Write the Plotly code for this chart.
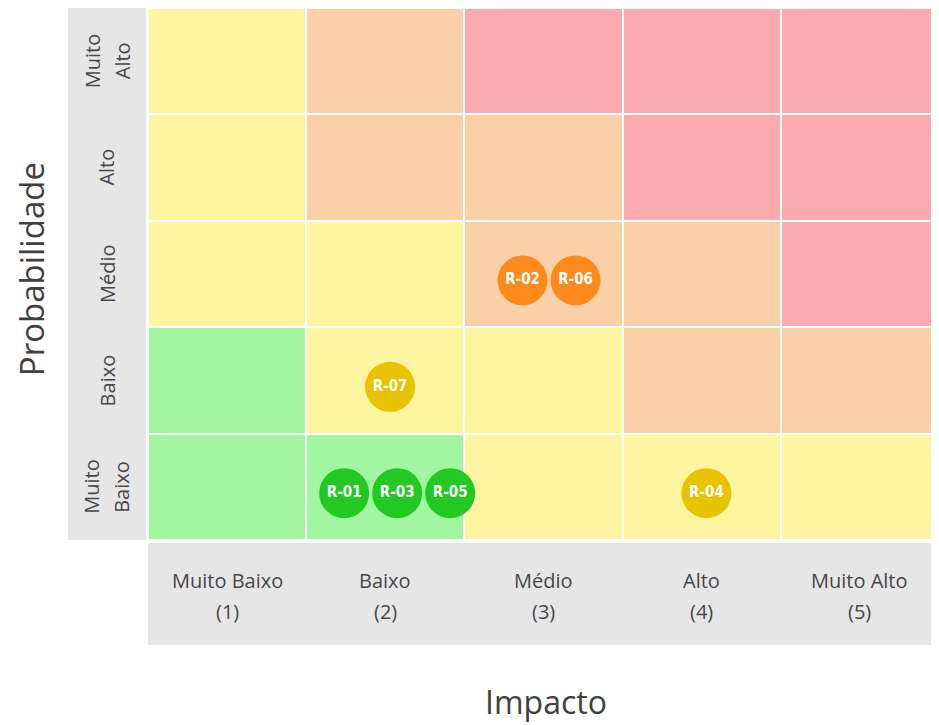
import plotly.graph_objects as go

# ---------------- data ----------------
impact_labels = ["Muito Baixo", "Baixo", "Médio", "Alto", "Muito Alto"]
impact_codes = ["(1)", "(2)", "(3)", "(4)", "(5)"]
prob_labels = [["Muito", "Baixo"], ["Baixo"], ["Médio"], ["Alto"], ["Muito", "Alto"]]

# risk level of each cell, rows = probability 1..5 (bottom to top), cols = impact 1..5
level_rows = [
    [1, 1, 2, 2, 2],
    [1, 2, 2, 3, 3],
    [2, 2, 3, 3, 4],
    [2, 3, 3, 4, 4],
    [2, 3, 4, 4, 4],
]

risk_ids = ["R-01", "R-02", "R-03", "R-04", "R-05", "R-06", "R-07"]
risk_impact = [2, 3, 2, 4, 2, 3, 2]
risk_prob = [1, 3, 1, 1, 1, 3, 2]

# ---------------- styles ----------------
cell_colors = {1: "#a2f6a2", 2: "#fff4a0", 3: "#fad0a9", 4: "#faabb0"}
bubble_colors = {1: "#22c922", 2: "#e8c400", 3: "#ff8a1c", 4: "#f04a4a"}
font_family = "Open Sans, Noto Sans, sans-serif"
label_color = "#474747"
PW, PH = 791, 532  # plot area size in px

fig = go.Figure()

cs = [[0.0, cell_colors[1]], [0.25, cell_colors[1]],
      [0.25, cell_colors[2]], [0.5, cell_colors[2]],
      [0.5, cell_colors[3]], [0.75, cell_colors[3]],
      [0.75, cell_colors[4]], [1.0, cell_colors[4]]]

fig.add_trace(go.Heatmap(
    z=level_rows, x=[1, 2, 3, 4, 5], y=[1, 2, 3, 4, 5],
    colorscale=cs, zmin=0.5, zmax=4.5, showscale=False,
    xgap=2, ygap=2, hoverinfo="skip",
))

# position the bubbles side by side within their cell
groups = {}
for i, (ix, py) in enumerate(zip(risk_impact, risk_prob)):
    groups.setdefault((ix, py), []).append(i)
bx, by, btext, bcol = [], [], [], []
spacing = 0.335
group_shift = {1: 0.03, 2: 0.035, 3: 0.075}
for (ix, py), idxs in groups.items():
    n = len(idxs)
    for k, i in enumerate(idxs):
        bx.append(ix + (k - (n - 1) / 2) * spacing + group_shift.get(n, 0.03))
        by.append(py - 0.06)
        btext.append(risk_ids[i])
        bcol.append(bubble_colors[level_rows[py - 1][ix - 1]])

fig.add_trace(go.Scatter(
    x=bx, y=by, mode="markers+text", text=btext,
    marker=dict(size=50, color=bcol, line=dict(width=0)),
    textfont=dict(family="DejaVu Sans Condensed, Liberation Sans Narrow, Arial", size=15,
                  color="white", weight="bold"),
    textposition="middle center", hoverinfo="skip", showlegend=False,
))

# impact labels (two lines each)
for i, (lab, code) in enumerate(zip(impact_labels, impact_codes)):
    fig.add_annotation(x=i + 1, y=0, xref="x", yref="paper", yshift=-40,
                       text=lab, showarrow=False, yanchor="middle",
                       font=dict(family=font_family, size=20, color=label_color))
    fig.add_annotation(x=i + 1, y=0, xref="x", yref="paper", yshift=-71,
                       text=code, showarrow=False, yanchor="middle",
                       font=dict(family=font_family, size=20, color=label_color))

# probability labels (rotated, centred in the grey band)
band_cx = -41 / PW
line_gap = 30
for j, lines in enumerate(prob_labels):
    n = len(lines)
    for k, line in enumerate(lines):
        fig.add_annotation(x=band_cx, y=j + 1, xref="paper", yref="y",
                           xshift=(k - (n - 1) / 2) * line_gap,
                           text=line, textangle=-90, showarrow=False,
                           xanchor="center", yanchor="middle",
                           font=dict(family=font_family, size=20, color=label_color))

# grey label bands
fig.add_shape(type="rect", xref="paper", yref="paper", x0=-80 / PW, x1=-2 / PW,
              y0=0, y1=1.0, fillcolor="#e6e6e6", line=dict(width=0), layer="below")
fig.add_shape(type="rect", xref="paper", yref="paper", x0=0, x1=1,
              y0=-105 / PH, y1=-3 / PH, fillcolor="#e6e6e6", line=dict(width=0), layer="below")

# axis titles
fig.add_annotation(x=-117 / PW, y=0.509, xref="paper", yref="paper", text="Probabilidade",
                   textangle=-90, showarrow=False, xanchor="center", yanchor="middle",
                   font=dict(family=font_family, size=33, color="#404040"))
fig.add_annotation(x=0.503, y=-161 / PH, xref="paper", yref="paper", text="Impacto",
                   showarrow=False, xanchor="center", yanchor="middle",
                   font=dict(family=font_family, size=32, color="#404040"))

fig.update_xaxes(range=[0.5, 5.5], showticklabels=False,
                 showgrid=False, zeroline=False, showline=False, ticks="", fixedrange=True)
fig.update_yaxes(range=[0.5, 5.5], showticklabels=False,
                 showgrid=False, zeroline=False, showline=False, ticks="", fixedrange=True)

fig.update_layout(
    width=931, height=717,
    margin=dict(l=140, r=0, t=0, b=185),
    plot_bgcolor="white", paper_bgcolor="white",
    showlegend=False,
)

fig.write_html("out.html")
